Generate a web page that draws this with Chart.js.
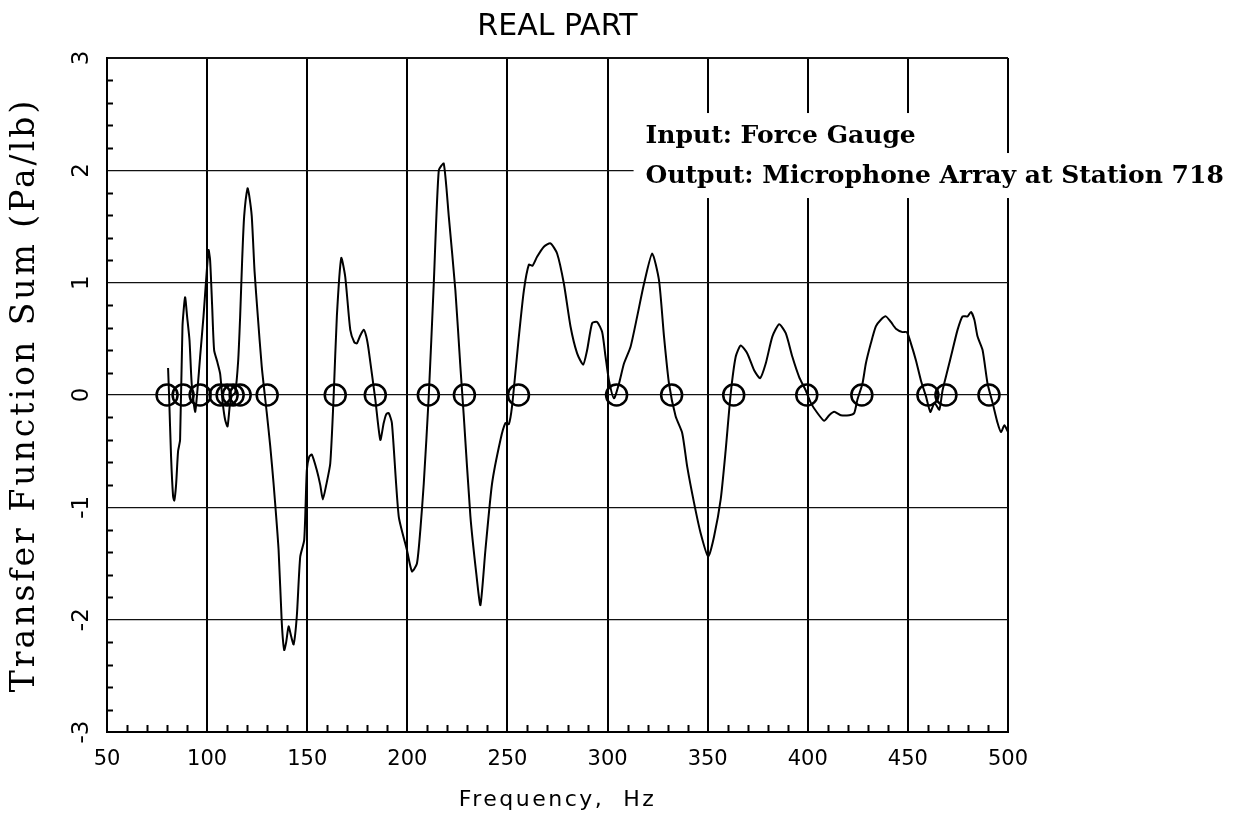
<!DOCTYPE html>
<html>
<head>
<meta charset="utf-8">
<title>Real Part</title>
<script src="https://cdn.jsdelivr.net/npm/chart.js@4.4.1/dist/chart.umd.min.js"></script>
<style>
  html, body { margin: 0; padding: 0; background: #fff; }
  canvas { display: block; }
</style>
</head>
<body>
<canvas id="chart" width="1247" height="821"></canvas>
<script>
// Transfer function sum, real part, versus frequency (Hz)
const freqHz = [
  80.5, 81.0, 82.0, 83.0, 83.6, 84.5, 85.5, 86.5, 87.7, 89.0,
  90.0, 91.2, 92.3, 94.0, 95.2, 96.5, 98.2, 100.7, 101.5, 102.5,
  103.5, 105.0, 106.5, 107.8, 109.0, 110.2, 111.3, 112.3, 114.0, 115.5,
  116.5, 117.5, 118.5, 120.2, 121.0, 122.3, 123.7, 125.2, 127.3, 129.8,
  131.5, 133.2, 135.7, 137.3, 138.5, 139.5, 140.7, 142.0, 143.2, 144.8,
  146.5, 148.5, 149.8, 151.0, 152.3, 154.8, 156.5, 157.8, 159.5, 161.5,
  163.2, 164.8, 167.0, 169.0, 171.5, 173.5, 174.8, 176.5, 178.2, 179.5,
  180.7, 184.0, 186.5, 188.2, 189.5, 190.7, 192.3, 195.7, 199.8, 202.3,
  204.8, 206.5, 208.2, 210.7, 213.2, 215.7, 218.2, 220.7, 224.0, 226.5,
  228.2, 231.5, 234.5, 236.5, 239.0, 242.3, 246.5, 249.0, 250.7, 252.3,
  255.7, 258.2, 260.7, 262.5, 264.8, 268.2, 271.5, 274.8, 278.2, 281.5,
  284.8, 287.8, 289.8, 292.3, 294.8, 297.3, 299.0, 300.7, 303.2, 305.7,
  308.2, 311.5, 314.8, 318.2, 322.3, 325.7, 328.2, 330.7, 334.0, 337.3,
  339.8, 343.2, 346.5, 350.3, 353.2, 356.5, 359.0, 361.5, 364.0, 366.5,
  369.8, 373.2, 376.2, 379.0, 382.3, 385.7, 389.0, 392.3, 395.7, 399.0,
  401.5, 404.8, 408.2, 410.7, 413.2, 416.5, 420.7, 423.2, 424.8, 427.3,
  429.0, 431.5, 434.0, 436.5, 439.0, 441.5, 444.0, 447.3, 449.5, 451.5,
  454.0, 456.5, 459.0, 461.2, 463.3, 465.7, 467.3, 469.8, 472.3, 474.8,
  477.3, 479.8, 481.5, 483.2, 484.8, 487.3, 489.8, 492.3, 494.8, 496.5,
  498.2, 500.0
];
const realPart = [
  0.24, 0.00, -0.55, -0.90, -0.94, -0.80, -0.50, -0.40, 0.61, 0.87,
  0.70, 0.49, 0.10, -0.15, 0.05, 0.34, 0.70, 1.29, 1.20, 0.80,
  0.40, 0.30, 0.19, -0.07, -0.22, -0.28, -0.10, -0.01, 0.02, 0.30,
  0.70, 1.20, 1.59, 1.84, 1.78, 1.59, 1.10, 0.73, 0.25, -0.16,
  -0.45, -0.79, -1.38, -2.03, -2.27, -2.20, -2.06, -2.15, -2.22, -1.97,
  -1.44, -1.29, -0.67, -0.55, -0.53, -0.67, -0.80, -0.93, -0.80, -0.61,
  -0.01, 0.70, 1.22, 1.05, 0.58, 0.47, 0.46, 0.53, 0.58, 0.52,
  0.40, -0.04, -0.40, -0.25, -0.17, -0.16, -0.25, -1.08, -1.38, -1.57,
  -1.50, -1.20, -0.79, -0.01, 0.99, 2.00, 2.06, 1.59, 0.93, 0.25,
  -0.19, -1.08, -1.60, -1.87, -1.38, -0.79, -0.40, -0.25, -0.26, -0.10,
  0.52, 0.93, 1.16, 1.15, 1.23, 1.32, 1.35, 1.26, 0.99, 0.61,
  0.37, 0.27, 0.40, 0.64, 0.65, 0.56, 0.34, 0.13, -0.03, 0.10,
  0.28, 0.43, 0.70, 0.99, 1.26, 1.02, 0.52, 0.10, -0.19, -0.34,
  -0.64, -0.96, -1.23, -1.44, -1.26, -0.93, -0.49, 0.01, 0.34, 0.44,
  0.37, 0.22, 0.15, 0.28, 0.52, 0.63, 0.55, 0.34, 0.16, 0.04,
  -0.07, -0.16, -0.23, -0.18, -0.15, -0.18, -0.18, -0.16, -0.04, 0.10,
  0.28, 0.46, 0.61, 0.67, 0.70, 0.65, 0.59, 0.56, 0.56, 0.46,
  0.31, 0.13, -0.01, -0.15, -0.07, -0.13, 0.04, 0.22, 0.40, 0.58,
  0.70, 0.70, 0.74, 0.67, 0.52, 0.40, 0.10, -0.07, -0.25, -0.33,
  -0.27, -0.33
];
// Frequencies marked with open circles on the zero line
const markerHz = [
  80, 88, 96.5, 106.5, 110, 113, 116.5, 130, 164, 184,
  210.5, 228.5, 255.5, 304.5, 332, 363, 399.5, 427, 460, 469, 490.5
];
const xTickValues = [50, 100, 150, 200, 250, 300, 350, 400, 450, 500];
const yTickValues = [-3, -2, -1, 0, 1, 2, 3];
const annotationLines = ['Input: Force Gauge', 'Output: Microphone Array at Station 718'];

const curvePoints = freqHz.map((f, i) => ({ x: f, y: realPart[i] }));
const markerPoints = markerHz.map(f => ({ x: f, y: 0 }));

// Small inward ticks between the labelled grid lines
const minorTicks = {
  id: 'minorTicks',
  beforeDatasetsDraw(chart) {
    const { ctx, chartArea: { left, bottom }, scales: { x, y } } = chart;
    ctx.save();
    ctx.strokeStyle = '#000';
    ctx.lineWidth = 2;
    ctx.beginPath();
    for (let v = 60; v < 500; v += 10) {
      if (v % 50 === 0) continue;
      const px = Math.round(x.getPixelForValue(v)) + 0.5;
      ctx.moveTo(px, bottom);
      ctx.lineTo(px, bottom - 7);
    }
    for (let k = -14; k <= 14; k++) {
      if (k % 5 === 0) continue;
      const py = Math.round(y.getPixelForValue(k / 5)) + 0.5;
      ctx.moveTo(left, py);
      ctx.lineTo(left + 6, py);
    }
    ctx.stroke();
    ctx.restore();
  }
};

// Wider letter spacing for the two axis titles
const spacedAxisTitles = {
  id: 'spacedAxisTitles',
  afterLayout(chart) {
    [['x', '2.5px'], ['y', '3px']].forEach(([id, spacing]) => {
      const scale = chart.scales[id];
      if (!scale || scale._spacedTitle) return;
      const drawTitle = scale.drawTitle;
      scale.drawTitle = function () {
        const prev = this.ctx.letterSpacing;
        this.ctx.letterSpacing = spacing;
        drawTitle.call(this);
        this.ctx.letterSpacing = prev || '0px';
      };
      scale._spacedTitle = true;
    });
  }
};

// Two-line caption on a white backing that interrupts the grid
const caption = {
  id: 'caption',
  afterDraw(chart) {
    const { ctx, scales: { x, y } } = chart;
    ctx.save();
    ctx.font = 'bold 25px "DejaVu Serif"';
    ctx.textBaseline = 'alphabetic';
    const left = x.getPixelForValue(319);
    const baselines = [y.getPixelForValue(2.243), y.getPixelForValue(1.887)];
    ctx.fillStyle = '#fff';
    annotationLines.forEach((line, i) => {
      const w = ctx.measureText(line).width;
      ctx.fillRect(left - 12, baselines[i] - 30, w + 20, 45);
    });
    ctx.fillStyle = '#000';
    annotationLines.forEach((line, i) => ctx.fillText(line, left, baselines[i]));
    ctx.restore();
  }
};

new Chart(document.getElementById('chart'), {
  type: 'scatter',
  data: {
    datasets: [
      {
        data: markerPoints,
        showLine: false,
        pointStyle: 'circle',
        pointRadius: 10.5,
        pointBorderWidth: 2.5,
        borderColor: '#000',
        backgroundColor: 'rgba(0,0,0,0)',
        order: 0
      },
      {
        data: curvePoints,
        showLine: true,
        borderColor: '#000',
        borderWidth: 2,
        pointRadius: 0,
        tension: 0.2,
        order: 1
      }
    ]
  },
  options: {
    responsive: false,
    devicePixelRatio: 1,
    animation: false,
    layout: { padding: { left: 0, right: 239, top: 0, bottom: 0 } },
    plugins: {
      legend: { display: false },
      tooltip: { enabled: false },
      title: {
        display: true,
        fullSize: false,
        text: 'REAL PART',
        color: '#000',
        font: { family: 'DejaVu Sans', size: 30, weight: 'normal' },
        padding: { top: 9, bottom: 13 }
      }
    },
    scales: {
      x: {
        type: 'linear',
        min: 50,
        max: 500,
        afterBuildTicks: s => { s.ticks = xTickValues.map(v => ({ value: v })); },
        afterFit: s => { s.height = 89; },
        ticks: {
          color: '#000',
          font: { family: 'DejaVu Sans', size: 21 },
          padding: 15,
          maxRotation: 0,
          autoSkip: false
        },
        grid: { color: '#000', lineWidth: 2, drawTicks: false },
        border: { display: true, color: '#000', width: 2 },
        title: {
          display: true,
          text: 'Frequency,  Hz',
          color: '#000',
          font: { family: 'DejaVu Sans', size: 22 },
          padding: { top: 0, bottom: 8 }
        }
      },
      y: {
        type: 'linear',
        min: -3,
        max: 3,
        afterBuildTicks: s => { s.ticks = yTickValues.map(v => ({ value: v })); },
        afterFit: s => { s.width = 107; },
        ticks: {
          color: '#000',
          font: { family: 'DejaVu Sans', size: 23 },
          minRotation: 90,
          maxRotation: 90,
          crossAlign: 'center',
          padding: 14
        },
        grid: {
          color: '#111',
          lineWidth: c => (Math.abs(c.tick.value) === 3 ? 2 : 1.2),
          drawTicks: false
        },
        border: { display: true, color: '#000', width: 2 },
        title: {
          display: true,
          text: 'Transfer Function Sum (Pa/lb)',
          color: '#000',
          font: { family: 'DejaVu Serif', size: 33 },
          padding: { top: 6, bottom: 0 }
        }
      }
    }
  },
  plugins: [minorTicks, spacedAxisTitles, caption]
});
</script>
</body>
</html>
